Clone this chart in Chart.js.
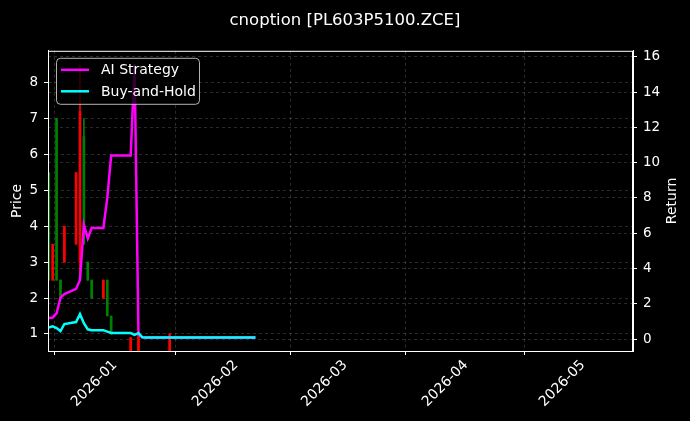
<!DOCTYPE html>
<html>
<head>
<meta charset="utf-8">
<script src="https://cdn.jsdelivr.net/npm/chart.js@4"></script>
<style>
  html, body { margin: 0; padding: 0; background: #000; }
  #wrap { width: 690px; height: 421px; }
</style>
</head>
<body>
<div id="wrap"><canvas id="chart" width="690" height="421"></canvas></div>
<script>
// x values are days counted from 2026-01-01
const candleDays  = [-17, -16, -15, -14, -13, -10, -9, -8, -7, -6, -3, -2, -1, 4, 6, 14];
const candleOpen  = [2.5, 3.5, 2.5, 2.0, 4.0, 5.5, 7.2, 3.5, 2.5, 2.0, 2.5, 1.5, 1.0, 0.9, 1.0, 1.0];
const candleHigh  = [5.5, 3.5, 7.0, 2.5, 4.0, 5.5, 8.5, 7.0, 3.0, 2.5, 2.5, 2.5, 1.5, 0.9, 1.0, 1.0];
const candleLow   = [2.5, 2.5, 2.5, 2.0, 3.0, 3.5, 2.5, 3.5, 2.5, 2.0, 2.0, 1.5, 1.0, 0.5, 0.5, 0.5];
const candleClose = [5.5, 2.5, 7.0, 2.5, 3.0, 3.5, 3.0, 6.5, 3.0, 2.5, 2.0, 2.5, 1.5, 0.5, 0.5, 0.5];

const lineDays = [-17, -16, -15, -14, -13, -10, -9, -8, -7, -6, -3, -2, -1, 4, 5, 6, 7,
  8, 9, 12, 13, 14, 15, 16, 19, 20, 21, 22, 23, 26, 27, 28, 29, 30, 33, 34, 35, 36];
const aiReturn = [1.19, 1.22, 1.45, 2.35, 2.55, 2.84, 3.35, 6.47, 5.7, 6.3, 6.3, 8.0, 10.4, 10.4, 15.57, 0.25, 0.1,
  0.09, 0.09, 0.09, 0.09, 0.09, 0.09, 0.09, 0.09, 0.09, 0.09, 0.09, 0.09, 0.09, 0.09, 0.09, 0.09, 0.09, 0.09, 0.09, 0.09, 0.09];
const holdReturn = [0.65, 0.72, 0.62, 0.45, 0.85, 0.96, 1.42, 0.9, 0.55, 0.5, 0.5, 0.42, 0.34, 0.34, 0.24, 0.34, 0.1,
  0.09, 0.09, 0.09, 0.09, 0.09, 0.09, 0.09, 0.09, 0.09, 0.09, 0.09, 0.09, 0.09, 0.09, 0.09, 0.09, 0.09, 0.09, 0.09, 0.09, 0.09];

const xTickDays = [0, 31, 59, 90, 120];
const xTickLabels = ["2026-01", "2026-02", "2026-03", "2026-04", "2026-05"];
const priceTicks = [1, 2, 3, 4, 5, 6, 7, 8];
const returnTicks = [0, 2, 4, 6, 8, 10, 12, 14, 16];

const FONT = "DejaVu Sans";
const GRID = "rgba(255,255,255,0.24)";
const candleColors = candleDays.map((d, i) =>
  candleClose[i] >= candleOpen[i] ? "#008000" : "#ff0000");

const frameAndLegend = {
  id: "frameAndLegend",
  afterDraw(chart) {
    const { ctx, chartArea: a } = chart;
    ctx.save();
    ctx.strokeStyle = "#fff";
    ctx.lineWidth = 1;
    ctx.strokeRect(a.left + 0.5, a.top + 0.5, a.right - a.left - 1, a.bottom - a.top);

    // right axis title, reads bottom to top
    ctx.fillStyle = "#fff";
    ctx.font = "14px " + FONT;
    ctx.textAlign = "center";
    ctx.textBaseline = "middle";
    ctx.translate(672, (a.top + a.bottom) / 2);
    ctx.rotate(-Math.PI / 2);
    ctx.fillText("Return", 0, 0);
    ctx.restore();

    // legend box
    ctx.save();
    const bx = a.left + 8, by = a.top + 7, bw = 143, bh = 46;
    ctx.beginPath();
    ctx.roundRect(bx + 0.5, by + 0.5, bw, bh, 4);
    ctx.fillStyle = "rgba(0,0,0,0.8)";
    ctx.fill();
    ctx.strokeStyle = "rgba(210,210,210,0.85)";
    ctx.lineWidth = 1;
    ctx.stroke();
    const entries = [chart.data.datasets[1], chart.data.datasets[0]];
    entries.forEach((ds, i) => {
      const y = by + 12 + i * 21.5;
      ctx.strokeStyle = ds.borderColor;
      ctx.lineWidth = 2.5;
      ctx.beginPath();
      ctx.moveTo(bx + 5, y);
      ctx.lineTo(bx + 33, y);
      ctx.stroke();
      ctx.fillStyle = "#fff";
      ctx.font = "14px " + FONT;
      ctx.textAlign = "left";
      ctx.textBaseline = "middle";
      ctx.fillText(ds.label, bx + 45, y + 1);
    });
    ctx.restore();
  },
};

new Chart(document.getElementById("chart"), {
  type: "bar",
  data: {
    datasets: [
      {
        type: "line",
        label: "Buy-and-Hold",
        data: lineDays.map((d, i) => ({ x: d, y: holdReturn[i] })),
        yAxisID: "y1",
        borderColor: "#00ffff",
        borderWidth: 2.5,
        pointRadius: 0,
        tension: 0,
        order: 0,
      },
      {
        type: "line",
        label: "AI Strategy",
        data: lineDays.map((d, i) => ({ x: d, y: aiReturn[i] })),
        yAxisID: "y1",
        borderColor: "#ff00ff",
        borderWidth: 2.5,
        pointRadius: 0,
        tension: 0,
        order: 1,
      },
      {
        label: "wick",
        data: candleDays.map((d, i) => ({ x: d, y: [candleLow[i], candleHigh[i]] })),
        yAxisID: "y",
        backgroundColor: candleColors,
        barThickness: 1,
        grouped: false,
        order: 2,
      },
      {
        label: "body",
        data: candleDays.map((d, i) => ({
          x: d,
          y: [Math.min(candleOpen[i], candleClose[i]), Math.max(candleOpen[i], candleClose[i])],
        })),
        yAxisID: "y",
        backgroundColor: candleColors,
        barThickness: 2,
        grouped: false,
        order: 3,
      },
    ],
  },
  options: {
    responsive: false,
    maintainAspectRatio: false,
    animation: false,
    devicePixelRatio: 1,
    layout: { padding: 0 },
    plugins: {
      legend: { display: false },
      tooltip: { enabled: false },
      title: {
        display: true,
        text: "cnoption [PL603P5100.ZCE]",
        color: "#fff",
        font: { family: FONT, size: 16.5, weight: "normal" },
        padding: { top: 11, bottom: 20 },
      },
    },
    scales: {
      x: {
        type: "linear",
        min: -17.2,
        max: 132.8,
        offset: false,
        afterBuildTicks: (s) => { s.ticks = xTickDays.map((v) => ({ value: v })); },
        afterFit: (s) => { s.height = 70; },
        ticks: {
          color: "#fff",
          font: { family: FONT, size: 14 },
          minRotation: 45,
          maxRotation: 45,
          autoSkip: false,
          padding: 2,
          callback: (v) => xTickLabels[xTickDays.indexOf(v)],
        },
        grid: { color: GRID, lineWidth: 0.7, tickColor: "#fff", tickLength: 4, tickWidth: 1 },
        border: { display: true, color: "#fff", dash: [3, 3] },
      },
      y: {
        position: "left",
        min: 0.526,
        max: 8.89,
        afterBuildTicks: (s) => { s.ticks = priceTicks.map((v) => ({ value: v })); },
        afterFit: (s) => { s.width = 48; },
        ticks: { color: "#fff", font: { family: FONT, size: 13.5 }, padding: 6 },
        title: {
          display: true,
          text: "Price",
          color: "#fff",
          font: { family: FONT, size: 14 },
          padding: { top: 9, bottom: 0 },
        },
        grid: { color: GRID, lineWidth: 0.7, tickColor: "#fff", tickLength: 4, tickWidth: 1 },
        border: { display: true, color: "#fff", dash: [3, 3] },
      },
      y1: {
        position: "right",
        min: -0.68,
        max: 16.34,
        afterBuildTicks: (s) => { s.ticks = returnTicks.map((v) => ({ value: v })); },
        afterFit: (s) => { s.width = 57; },
        ticks: { color: "#fff", font: { family: FONT, size: 13.5 }, padding: 6 },
        grid: { color: GRID, lineWidth: 0.7, tickColor: "#fff", tickLength: 4, tickWidth: 1 },
        border: { display: true, color: "#fff", dash: [3, 3] },
      },
    },
  },
  plugins: [frameAndLegend],
});
</script>
</body>
</html>
